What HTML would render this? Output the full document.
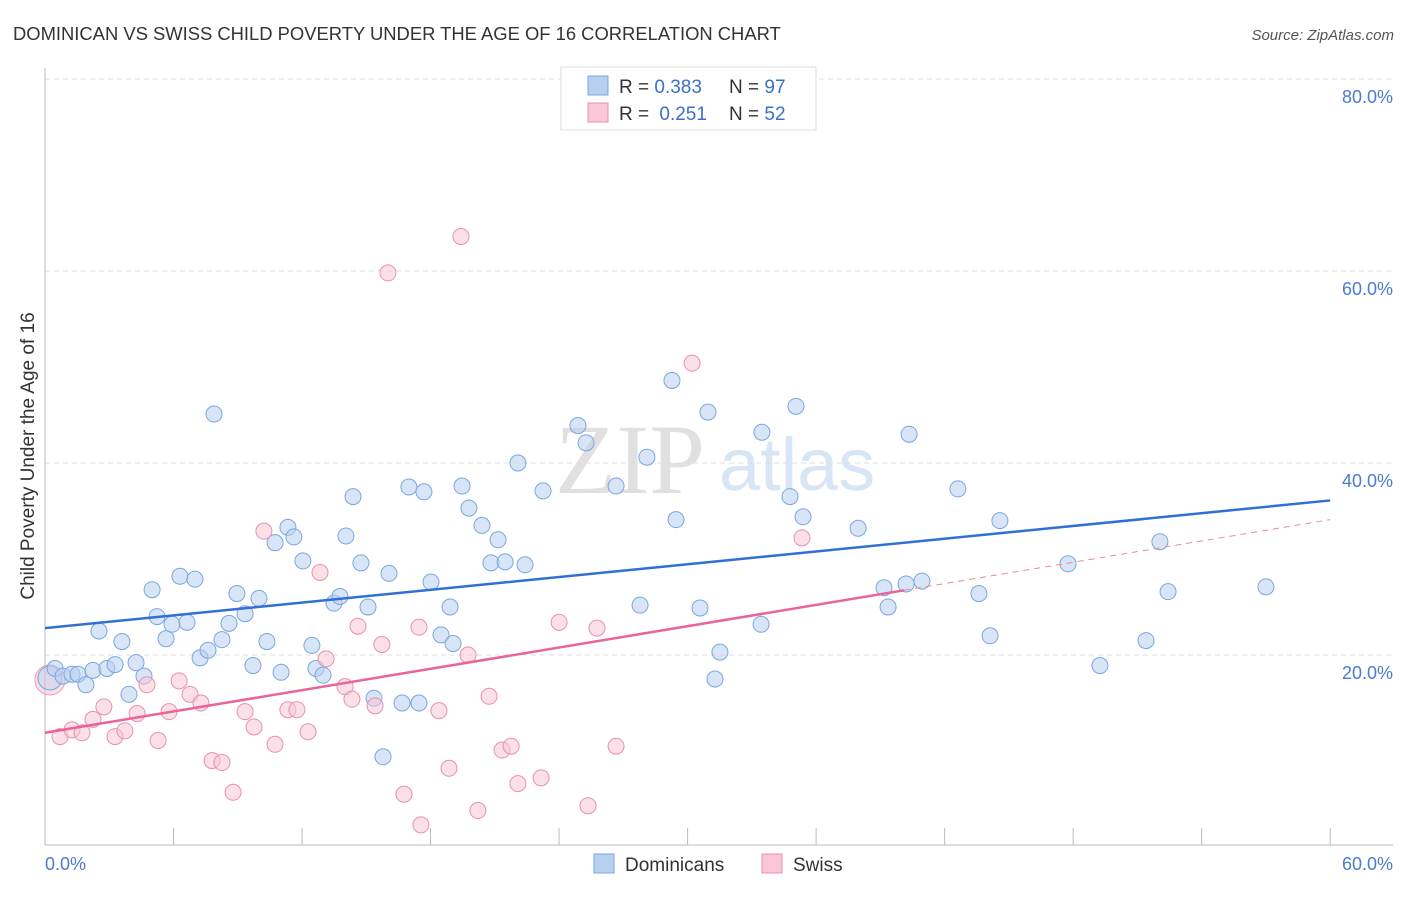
<!DOCTYPE html>
<html><head><meta charset="utf-8"><style>
body{margin:0;background:#fff;font-family:"Liberation Sans",sans-serif;}
svg text{font-family:"Liberation Sans",sans-serif;}
</style></head><body>
<svg id="chart" width="1406" height="892" viewBox="0 0 1406 892" xmlns="http://www.w3.org/2000/svg">
<text x="13" y="40" font-size="18.4" fill="#333">DOMINICAN VS SWISS CHILD POVERTY UNDER THE AGE OF 16 CORRELATION CHART</text>
<text x="1394" y="40" font-size="15" fill="#555" text-anchor="end" font-style="italic">Source: ZipAtlas.com</text>
<text x="555" y="493" font-size="100" fill="#e0e0e0" style="font-family:'Liberation Serif',serif">ZIP</text>
<text x="719" y="490" font-size="74" fill="#d8e5f5">atlas</text>
<g id="grid"></g>
<line x1="45" y1="68" x2="45" y2="845" stroke="#bbb"/>
<line x1="45" y1="845" x2="1393" y2="845" stroke="#bbb"/>
<text transform="translate(34,456) rotate(-90)" font-size="19" fill="#333" text-anchor="middle">Child Poverty Under the Age of 16</text>
<text x="45" y="870" font-size="18" fill="#4a7bd0">0.0%</text>
<text x="1393" y="870" font-size="18" fill="#4a7bd0" text-anchor="end">60.0%</text>
<g id="points"></g>
<g id="lines"></g>
<g>
<rect x="561" y="67" width="255" height="63" fill="#fff" stroke="#ddd"/>
<rect x="588" y="76" width="20" height="19" fill="#b8d0f0" stroke="#7aa6e0"/>
<rect x="588" y="103" width="20" height="19" fill="#f8c6d6" stroke="#e890b0"/>
<text x="619" y="93" font-size="19" fill="#333">R = <tspan fill="#3a70cc">0.383</tspan></text>
<text x="729" y="93" font-size="19" fill="#333">N = <tspan fill="#3a70cc">97</tspan></text>
<text x="619" y="120" font-size="19" fill="#333">R = <tspan fill="#3a70cc" dx="5">0.251</tspan></text>
<text x="729" y="120" font-size="19" fill="#333">N = <tspan fill="#3a70cc">52</tspan></text>
</g>
<g>
<rect x="594" y="854" width="20" height="19" fill="#b8d0f0" stroke="#7aa6e0"/>
<text x="625" y="871" font-size="19" fill="#333">Dominicans</text>
<rect x="762" y="854" width="20" height="19" fill="#f8c6d6" stroke="#e890b0"/>
<text x="793" y="871" font-size="19" fill="#333">Swiss</text>
</g>
</svg>
<script>
const yTicks=[20,40,60,80];
const xTickCount=10;
const blueX=[0.47,0.84,1.26,1.54,1.91,2.24,2.89,3.27,2.52,3.59,3.92,4.25,4.62,5.0,5.23,5.65,5.93,6.30,6.63,7.0,7.24,7.61,7.89,8.26,8.59,8.96,9.34,9.71,9.99,10.36,10.74,11.02,11.34,11.62,12.04,12.46,12.65,12.98,13.49,13.77,14.05,14.38,14.75,15.08,15.36,15.78,16.06,16.67,16.99,17.46,17.69,18.02,18.49,18.91,19.05,19.47,19.79,20.40,20.82,21.15,21.48,22.08,22.41,23.25,24.88,25.26,26.66,27.78,28.10,29.27,29.46,30.58,30.95,31.28,31.51,33.43,33.47,34.78,35.06,35.39,37.96,39.17,39.36,40.20,40.34,40.94,42.62,43.60,44.12,44.58,47.76,49.25,51.40,52.05,52.43,57.0];
const blueY=[18.6,17.8,18.0,18.0,16.9,18.4,18.6,19.0,22.5,21.4,15.9,19.2,17.8,26.8,24.0,21.7,23.2,28.2,23.4,27.9,19.7,20.5,45.1,21.6,23.3,26.4,24.3,18.9,25.9,21.4,31.7,18.2,33.3,32.3,29.8,21.0,18.6,17.9,25.4,26.1,32.4,36.5,29.6,25.0,15.5,9.4,28.5,15.0,37.5,15.0,37.0,27.6,22.1,25.0,21.2,37.6,35.3,33.5,29.6,32.0,29.7,40.0,29.4,37.1,43.9,42.1,37.6,25.2,40.6,48.6,34.1,24.9,45.3,17.5,20.3,23.2,43.2,36.5,45.9,34.4,33.2,27.0,25.0,27.4,43.0,27.7,37.3,26.4,22.0,34.0,29.5,18.9,21.5,31.8,26.6,27.1];
const pinkX=[0.7,1.26,1.73,2.24,2.75,3.27,3.73,4.30,4.76,5.28,5.79,6.26,6.77,7.28,7.80,8.26,8.78,9.34,9.76,10.22,10.74,11.34,11.76,12.28,12.84,13.12,14.01,14.33,14.61,15.41,15.73,16.01,16.76,17.46,17.55,18.39,18.86,19.42,19.75,20.21,20.73,21.34,21.76,22.08,23.16,24.0,25.35,25.77,26.66,30.21,35.34];
const pinkY=[11.5,12.2,11.9,13.3,14.6,11.5,12.1,13.9,16.9,11.1,14.1,17.3,15.9,15.0,9.0,8.8,5.7,14.1,12.5,32.9,10.7,14.3,14.3,12.0,28.6,19.6,16.7,15.4,23.0,14.7,21.1,59.8,5.5,22.9,2.3,14.2,8.2,63.6,20.0,3.8,15.7,10.1,10.5,6.6,7.2,23.4,4.3,22.8,10.5,50.4,32.2];
const bigBlue=[0.23,17.6], bigPink=[0.23,17.4];
const blueTrend=[22.8,36.1], pinkTrend=[11.9,34.1], pinkSolidEnd=40.1;
const NS="http://www.w3.org/2000/svg";
const sx=v=>45+v*21.42, sy=v=>847-v*9.6;
function mk(tag,attrs,parent){const e=document.createElementNS(NS,tag);for(const k in attrs)e.setAttribute(k,attrs[k]);parent.appendChild(e);return e;}
const grid=document.getElementById('grid');
yTicks.forEach(t=>{
 const l=mk('line',{x1:45,x2:1393,y1:sy(t),y2:sy(t),stroke:'#ddd','stroke-dasharray':'5,4'},grid);
 
 
 const tx=mk('text',{x:1393,y:sy(t)+24,'font-size':18,fill:'#4a7bd0','text-anchor':'end'},grid);
 tx.textContent=t.toFixed(1)+'%';
 
 
});
for(let i=1;i<=xTickCount;i++){
 const l=mk('line',{x1:sx(i*6),x2:sx(i*6),y1:828,y2:845,stroke:'#bbb'},grid);
 
 
}
const pts=document.getElementById('points');
mk('circle',{cx:sx(bigPink[0]),cy:sy(bigPink[1]),r:15,fill:'rgba(245,185,205,0.45)',stroke:'#eaa0b8'},pts);
mk('circle',{cx:sx(bigBlue[0]),cy:sy(bigBlue[1]),r:12,fill:'rgba(184,208,240,0.45)',stroke:'#7aa6e0'},pts);
blueX.forEach((x,i)=>{
 const c=mk('circle',{cx:sx(x),cy:sy(blueY[i]),r:8,fill:'rgba(184,208,240,0.55)',stroke:'#7aa6e0','stroke-width':1},pts);
 
 
});
pinkX.forEach((x,i)=>{
 const c=mk('circle',{cx:sx(x),cy:sy(pinkY[i]),r:8,fill:'rgba(248,198,214,0.55)',stroke:'#e890b0','stroke-width':1},pts);
 
 
});
const ln=document.getElementById('lines');
const b=mk('line',{x1:sx(0),y1:sy(blueTrend[0]),x2:sx(60),y2:sy(blueTrend[1]),stroke:'#2f6fd6','stroke-width':2.5},ln);


const pAt=x=>pinkTrend[0]+(pinkTrend[1]-pinkTrend[0])*x/60;
const p=mk('line',{x1:sx(0),y1:sy(pinkTrend[0]),x2:sx(pinkSolidEnd),y2:sy(pAt(pinkSolidEnd)),stroke:'#e8649a','stroke-width':2.5},ln);


const pd=mk('line',{x1:sx(pinkSolidEnd),y1:sy(pAt(pinkSolidEnd)),x2:sx(60),y2:sy(pinkTrend[1]),stroke:'#e8889f','stroke-width':1,'stroke-dasharray':'6,5'},ln);


</script>
</body></html>
